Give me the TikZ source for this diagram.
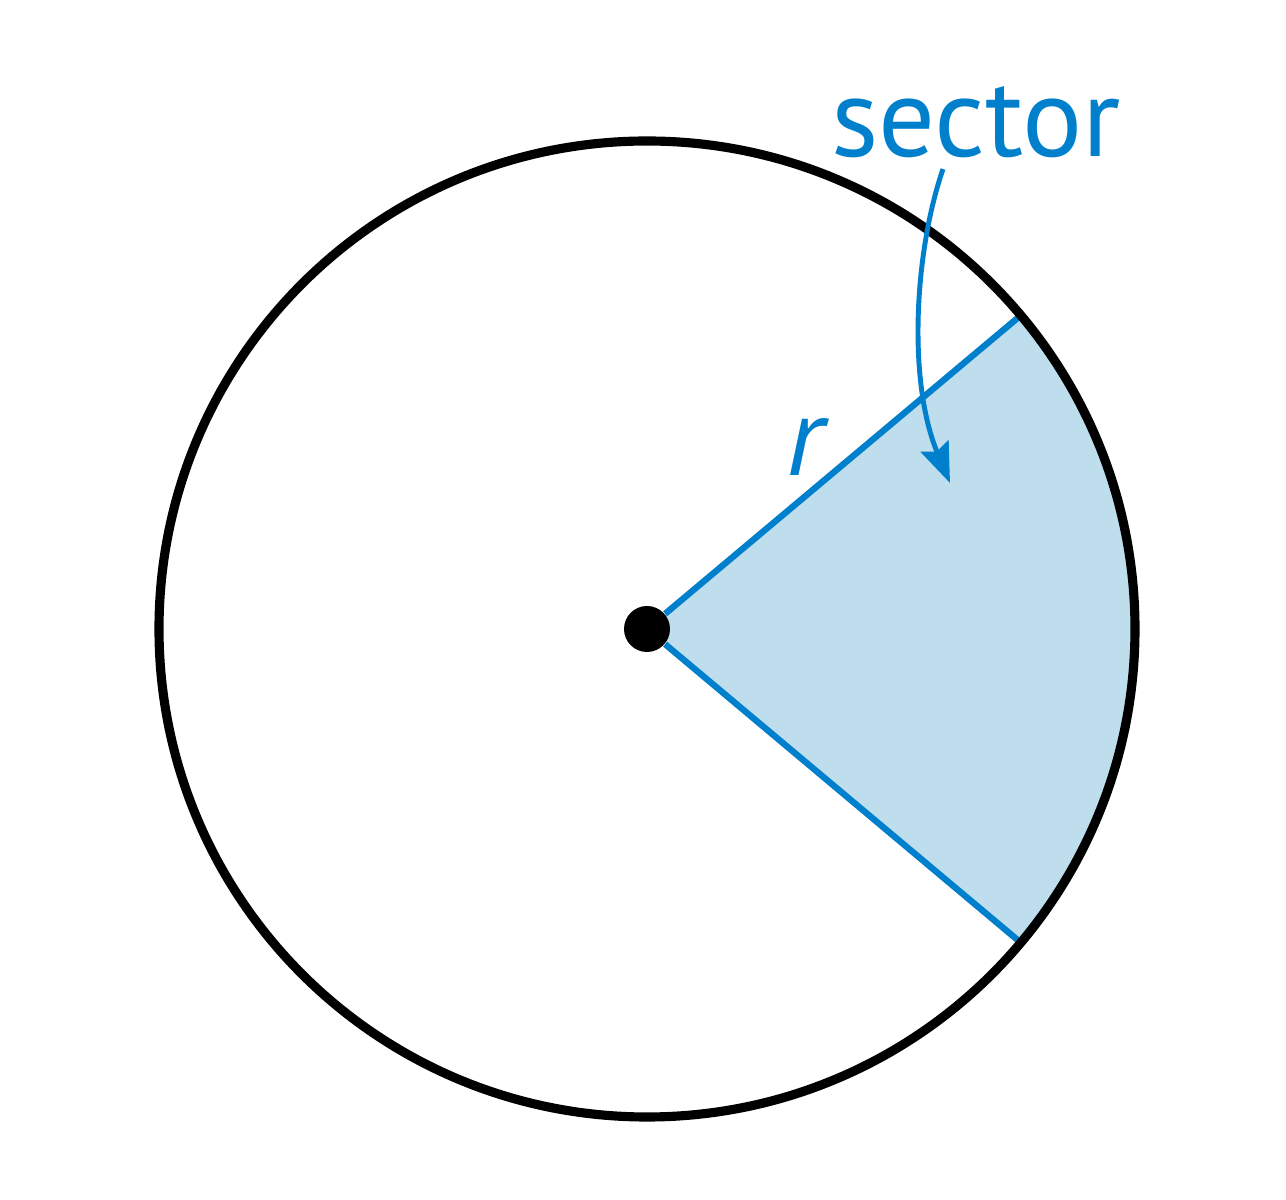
\documentclass[tikz,border=0pt]{standalone}
\usepackage{fontspec}
\setsansfont{PT Sans}
\usetikzlibrary{arrows.meta,calc}
\definecolor{secblue}{RGB}{0,128,204}
\definecolor{secfill}{RGB}{190,222,238}
\tikzset{rim/.style={line width=2.6pt,black}, radius line/.style={line width=1.8pt,secblue}, label text/.style={secblue,inner sep=0pt,font=\sffamily\fontsize{32}{38}\selectfont}, pointer/.style={line width=1.4pt,secblue,-{Stealth[length=4mm,width=3mm,inset=0.6mm]}}}

\begin{document}
\begin{tikzpicture}
\useasboundingbox (0,0) rectangle (12.86,12);
\coordinate (O) at (6.47,5.71);
\coordinate (A) at ($(O)+(40:4.88)$);
\coordinate (B) at ($(O)+(-40:4.88)$);
\fill[secfill] (O) -- (B) arc[start angle=-40,end angle=40,radius=4.88] -- cycle;
\node[fill=black,circle,inner sep=0pt,minimum size=0.46cm] (centre) at (O) {};
\draw[radius line] (centre) -- (A);
\draw[radius line] (centre) -- (B);
\draw[rim] (O) circle[radius=4.88];
%labels
\node[label text,anchor=base] (sector) at (9.76,10.43) {sector};
\node[label text,font=\sffamily\itshape\fontsize{32}{38}\selectfont] (rlabel) at (8.05,7.53) {r};
\coordinate (tip) at (9.50,7.17);
\draw[pointer] ([xshift=-0.33cm,yshift=-0.1cm]sector.south) .. controls (9.15,9.5) and (9.07,8.2) .. (tip);
\end{tikzpicture}
\end{document}
